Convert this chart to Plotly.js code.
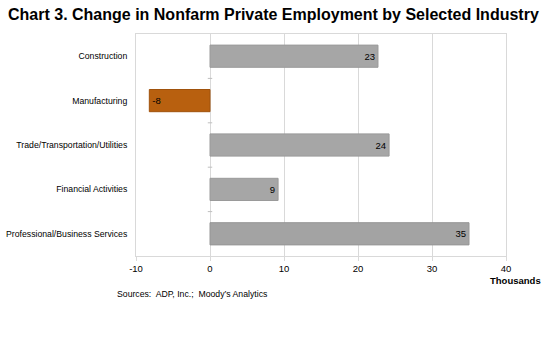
<!DOCTYPE html>
<html><head><meta charset="utf-8">
<script src="https://cdn.plot.ly/plotly-3.0.1.min.js"></script>
<style>body{margin:0;background:#fff}#c{width:550px;height:350px}</style>
</head><body><div id="c"></div>
<script>
const industries = ["Construction","Manufacturing","Trade/Transportation/Utilities","Financial Activities","Professional/Business Services"];
const changes = [22.7, -8.2, 24.2, 9.2, 35.0];
const valueLabels = ["23","-8","24","9","35"];
const barColors = ["#a6a6a6","#b8600f","#a6a6a6","#a6a6a6","#a3a3a3"];
const lineColors = ["#9a9a9a","#a0520c","#9a9a9a","#9a9a9a","#969696"];
const xTicks = [-10,0,10,20,30,40];

const trace = {
  type:'bar', orientation:'h',
  y: industries, x: changes,
  text: valueLabels, textposition:'inside', insidetextanchor:'end',
  textfont:{family:'Arial', size:9.5, color:'#000'},
  marker:{color:barColors, line:{color:lineColors, width:1}},
  width:0.5, cliponaxis:false, hoverinfo:'none'
};

const boundaryTicks = [0.5,1.5,2.5,3.5].map(b => ({
  type:'line', xref:'x', yref:'y', x0:-0.3, x1:0.3, y0:b, y1:b,
  line:{color:'#bfbfbf', width:1}
}));

const layout = {
  width:550, height:350,
  margin:{l:136, r:44, t:34, b:94},
  paper_bgcolor:'#fff', plot_bgcolor:'#fff',
  showlegend:false,
  font:{family:'Arial', size:9, color:'#000'},
  title:{text:'<b>Chart 3. Change in Nonfarm Private Employment by Selected Industry</b>',
    x:8/550, xanchor:'left', xref:'container', y:1-14/350, yanchor:'middle', yref:'container',
    font:{family:'Arial', size:16, color:'#000'}},
  xaxis:{range:[-10,40], tickvals:xTicks, ticktext:xTicks.map(String),
    showgrid:true, gridcolor:'#d9d9d9', gridwidth:1,
    zeroline:false, showline:true, linecolor:'#d9d9d9', mirror:true,
    ticks:'outside', ticklen:4, tickcolor:'#d9d9d9',
    tickfont:{family:'Arial', size:9.5, color:'#000'}, fixedrange:true},
  yaxis:{autorange:'reversed', showgrid:false, zeroline:false,
    showline:true, linecolor:'#d9d9d9', mirror:true, ticks:'',
    ticklabelstandoff:6,
    tickfont:{family:'Arial', size:8.7, color:'#000'}, fixedrange:true},
  shapes: boundaryTicks,
  annotations:[
    {text:'<b>Thousands</b>', xref:'paper', yref:'paper', x:1.1, y:-0.11,
     xanchor:'right', yanchor:'middle', showarrow:false,
     font:{family:'Arial', size:9.5, color:'#000'}},
    {text:'Sources:  ADP, Inc.;  Moody\u2019s Analytics', xref:'paper', yref:'paper',
     x:-0.057, y:-0.17, xanchor:'left', yanchor:'middle', showarrow:false,
     font:{family:'Arial', size:8.7, color:'#000'}}
  ],
  bargap:0.5
};

Plotly.newPlot('c', [trace], layout, {displayModeBar:false, staticPlot:true});
</script></body></html>
